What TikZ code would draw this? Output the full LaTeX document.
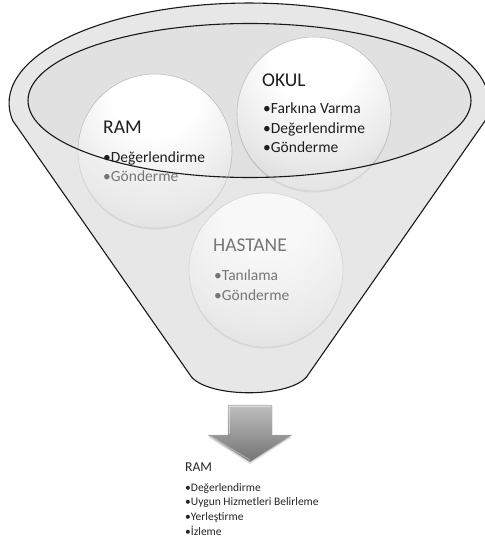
\documentclass[tikz,border=0pt]{standalone}
\usepackage{fontspec}
\setmainfont{Carlito}
\usetikzlibrary{shadows}
\pgfdeclareradialshading{ballshade}{\pgfpoint{0bp}{22bp}}{color(0bp)=(white); color(14bp)=(white); color(32bp)=(black!9); color(48bp)=(black!20); color(62bp)=(black!31); color(74bp)=(black!40); color(100bp)=(black!42)}
\definecolor{funnelbase}{HTML}{E1E1E1}
\definecolor{funnelglass}{HTML}{F0F0F0}
\definecolor{dimtext}{HTML}{1E1E1E}
\begin{document}
\begin{tikzpicture}[x=1pt,y=-1pt,
  ball/.style={circle, minimum size=154pt, inner sep=0pt, shading=ballshade,
    draw=black!25, line width=0.6pt,
    drop shadow={shadow xshift=0pt, shadow yshift=-1.5pt, opacity=0.25}},
  titletext/.style={anchor=base west, inner sep=0pt, text=dimtext, font=\fontsize{19.5}{22}\selectfont},
  itemtext/.style={anchor=base west, inner sep=0pt, text=dimtext, font=\fontsize{15.5}{18}\selectfont},
  smalltitle/.style={anchor=base west, inner sep=0pt, text=black!85, font=\fontsize{13.6}{16}\selectfont},
  smallitem/.style={anchor=base west, inner sep=0pt, text=black!85, font=\fontsize{11.5}{14}\selectfont},
  outline/.style={draw=black!90, line width=1.1pt}]
\useasboundingbox (0,0) rectangle (484,540);
\fill[white] (0,0) rectangle (484,540);

% funnel back layer
\fill[funnelbase] (12.6,120.4) -- (191.5,377) .. controls (210,398) and (288,398) .. (306.5,377)
  -- (485.4,120.4) arc[start angle=10, end angle=-190, x radius=240, y radius=100] -- cycle;

% circles
\node[ball] (ramc) at (155,151) {};
\node[ball] (okulc) at (314,114) {};
\node[ball] (hastc) at (266,270) {};

% circle texts
\node[titletext] (ramt) at (103,134) {RAM};
\node[itemtext] (ram1) at (103,163) {•Değerlendirme};
\node[itemtext] (ram2) at (103,182) {•Gönderme};

\node[titletext] (okult) at (262,86.5) {OKUL};
\node[itemtext] (okul1) at (263,114) {•Farkına Varma};
\node[itemtext] (okul2) at (263,134) {•Değerlendirme};
\node[itemtext] (okul3) at (263,153) {•Gönderme};

\node[titletext] (hastt) at (213,251) {HASTANE};
\node[itemtext] (hast1) at (214,280) {•Tanılama};
\node[itemtext] (hast2) at (214,300) {•Gönderme};

% glass layer of the funnel body (outside the inner ellipse)
\fill[funnelglass, opacity=0.42, even odd rule]
  (12.6,120.4) -- (191.5,377) .. controls (210,398) and (288,398) .. (306.5,377)
  -- (485.4,120.4) arc[start angle=10, end angle=-190, x radius=240, y radius=100] -- cycle
  (249.5,100.5) ellipse[x radius=221.5, y radius=77];

% outlines
\draw[outline, line join=round] (12.6,120.4) -- (191.5,377) .. controls (210,398) and (288,398) .. (306.5,377)
  -- (485.4,120.4) arc[start angle=10, end angle=-190, x radius=240, y radius=100] -- cycle;
\draw[outline] (249.5,100.5) ellipse[x radius=221.5, y radius=77];

% arrow
\path[top color=black!25, bottom color=black!55, draw=black!30, line width=0.4pt,
  drop shadow={shadow xshift=0pt, shadow yshift=-2pt, opacity=0.25}]
  (228,405) -- (272,405) -- (272,435) -- (292,435) -- (250,462) -- (208,435) -- (228,435) -- cycle;
\draw[white, opacity=0.45, line width=1pt] (229.5,434) -- (229.5,406.5) -- (270.5,406.5);
\draw[white, opacity=0.35, line width=1pt] (211,436.5) -- (250,460);

% bottom text
\node[smalltitle] (rambt) at (185,471.5) {RAM};
\node[smallitem] (rambl1) at (185,491) {•Değerlendirme};
\node[smallitem] (rambl2) at (185,505.5) {•Uygun Hizmetleri Belirleme};
\node[smallitem] (rambl3) at (185,520) {•Yerleştirme};
\node[smallitem] (rambl4) at (185,535) {•İzleme};
\end{tikzpicture}
\end{document}
